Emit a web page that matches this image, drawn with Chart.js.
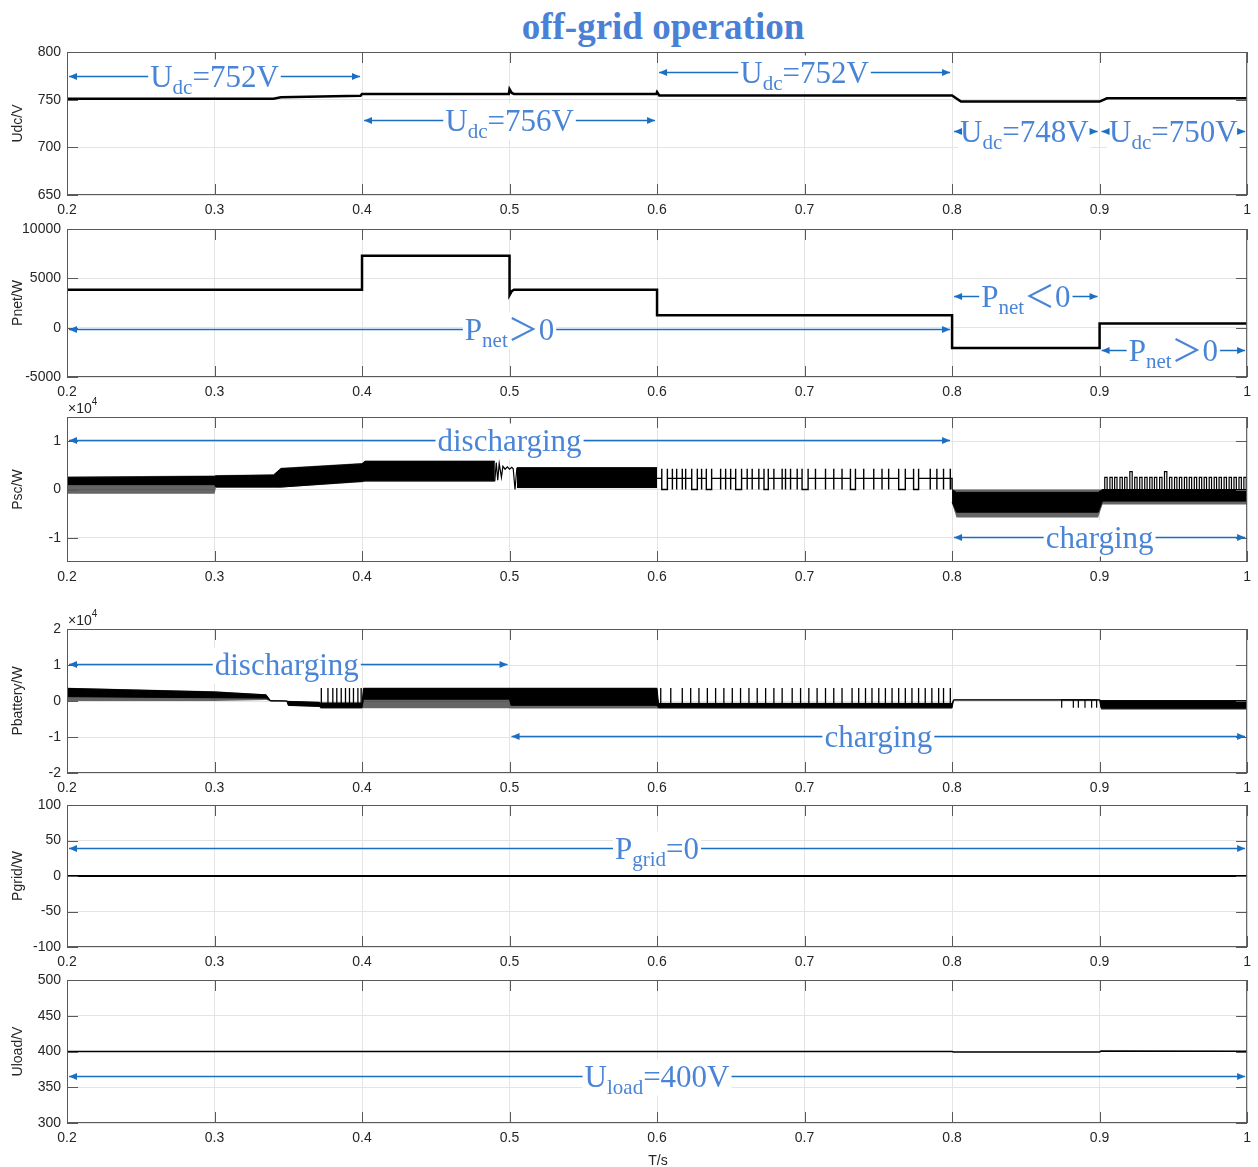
<!DOCTYPE html>
<html>
<head>
<meta charset="utf-8">
<script src="https://cdn.jsdelivr.net/npm/chart.js@4.4.0/dist/chart.umd.min.js"></script>
<style>
body{margin:0;background:#fff;width:1258px;height:1167px;position:relative;overflow:hidden}
canvas{position:absolute;left:0}
#title{position:absolute;left:0;width:1326px;top:5px;line-height:44px;text-align:center;font:bold 37px "Liberation Serif","Times New Roman",serif;color:#4a80d6}
#xlab{position:absolute;left:0;width:1316px;top:1152px;line-height:16px;text-align:center;font:14px "Liberation Sans",Arial,sans-serif;color:#262626}
</style>
</head>
<body>
<div id="title">off-grid operation</div>
<canvas id="c0" width="1258" height="193" style="top:30px"></canvas>
<canvas id="c1" width="1258" height="198" style="top:207px"></canvas>
<canvas id="c2" width="1258" height="195" style="top:395px"></canvas>
<canvas id="c3" width="1258" height="194" style="top:607px"></canvas>
<canvas id="c4" width="1258" height="192" style="top:783px"></canvas>
<canvas id="c5" width="1258" height="193" style="top:958px"></canvas>
<div id="xlab">T/s</div>
<script>
// ---- data ----
const xTicks = [0.2, 0.3, 0.4, 0.5, 0.6, 0.7, 0.8, 0.9, 1.0];

// DC bus voltage
const udcT = [0.2, 0.34, 0.345, 0.399, 0.4, 0.4995, 0.5, 0.5015, 0.503, 0.5995, 0.6, 0.6015, 0.8, 0.806, 0.9, 0.905, 1.0];
const udcV = [751, 751, 752.5, 754, 756, 756, 761, 757, 756, 756, 758, 754.5, 754.5, 748, 748, 751.5, 751.5];
const udcTicks = [650, 700, 750, 800];

// net power
const pnetT = [0.2, 0.4, 0.4, 0.5, 0.5, 0.5015, 0.503, 0.6, 0.6, 0.8, 0.8, 0.9, 0.9, 1.0];
const pnetV = [3850, 3850, 7300, 7300, 3300, 3700, 3850, 3850, 1250, 1250, -2050, -2050, 420, 420];
const pnetTicks = [-5000, 0, 5000, 10000];

// supercapacitor power: dense switching shown as envelopes
const pscT      = [0.200, 0.300, 0.301, 0.340, 0.345, 0.400, 0.402, 0.490, 0.497, 0.505, 0.600, 0.700, 0.800, 0.803, 0.899, 0.902, 1.000];
const pscCoreHi = [2500, 2700, 2800, 3000, 4300, 5300, 5800, 5800, null, 4500, 4500, null, 0, -600, -600, 0, 0];
const pscCoreLo = [1000, 1000, 500, 500, 500, 1700, 1800, 1800, null, 400, 400, null, -2600, -4700, -4700, -2400, -2400];
const pscOutHi  = [2700, 2900, 3000, 3100, 4500, 5500, 6000, 6000, null, 4600, 4600, null, 0, 0, 0, 0, 0];
const pscOutLo  = [-900, -900, 400, 400, 400, 1500, 1600, 1600, null, 300, 300, null, -2900, -5800, -5800, -3100, -3100];
const pscTransT = [0.4900, 0.4910, 0.4920, 0.4930, 0.4945, 0.4955, 0.4970, 0.4985, 0.5000, 0.5015, 0.5025, 0.5037, 0.5050];
const pscTransV = [1700, 5600, 1900, 5400, 2500, 4800, 4200, 4700, 4200, 4600, 4300, 0, 4500];
const pscStrokes = [0.6104, 0.6133, 0.6171, 0.6194, 0.6302, 0.6431, 0.6465, 0.6499, 0.6611, 0.6645, 0.6690, 0.6792,
  0.6848, 0.6871, 0.6905, 0.6950, 0.7074, 0.7142, 0.7198, 0.7254, 0.7401, 0.7469, 0.7525, 0.7570, 0.7852, 0.7897, 0.7942, 0.7988];
const pscDips = [[0.6032, 0.6070], [0.6235, 0.6273], [0.6334, 0.6370], [0.6533, 0.6573], [0.6725, 0.6754],
  [0.6983, 0.7024], [0.7311, 0.7345], [0.7638, 0.7683], [0.7739, 0.7773]];
const pscPulseT = [0.9035, 0.9070, 0.9102, 0.9138, 0.9170, 0.9205, 0.9238, 0.9272, 0.9306, 0.9340, 0.9372, 0.9407, 0.9440,
  0.9474, 0.9508, 0.9541, 0.9575, 0.9608, 0.9642, 0.9676, 0.9709, 0.9743, 0.9777, 0.9810, 0.9844, 0.9878, 0.9911, 0.9945, 0.9978];
const pscPulseH = [2500, 2500, 2500, 2500, 2500, 3700, 2500, 2500, 2500, 2500, 2500, 2500, 3700,
  2500, 2500, 2500, 2500, 2500, 2500, 2500, 2500, 2500, 2500, 2500, 2500, 2500, 2500, 2500, 2500];
const pscTicks = [-10000, 0, 10000];

// battery power
const battT      = [0.200, 0.300, 0.335, 0.338, 0.349, 0.350, 0.371, 0.372, 0.400, 0.401, 0.500, 0.501, 0.600, 0.601, 0.800, 0.801, 0.900, 0.901, 1.000];
const battCoreHi = [3500, 2500, 1700, 100, 0, -100, -400, -600, -600, 3500, 3500, 3500, 3500, -700, -700, 300, 300, 100, 100];
const battCoreLo = [1200, 900, 800, 0, 0, -1200, -1500, -1900, -1900, 500, 500, -1200, -1200, -1900, -1900, 300, 300, -2000, -2000];
const battOutHi  = [3700, 2700, 1900, 100, 0, 0, -200, -500, -500, 3700, 3700, 3700, 3700, -500, -500, 300, 300, 300, 300];
const battOutLo  = [0, 0, 300, 0, 0, -1400, -1600, -2000, -2000, -2000, -2000, -2100, -2100, -2100, -2100, 300, 300, -2400, -2400];
const battSpikesA = [0.3724, 0.3769, 0.3802, 0.3829, 0.3859, 0.3888, 0.3915, 0.3942, 0.3972, 0.3994];
const battSpikesB = [0.6025, 0.6093, 0.6171, 0.6228, 0.6284, 0.6341, 0.6397, 0.6453, 0.6510, 0.6566, 0.6623, 0.6679,
  0.6736, 0.6792, 0.6848, 0.6916, 0.6973, 0.7029, 0.7085, 0.7142, 0.7198, 0.7254, 0.7322, 0.7367, 0.7413, 0.7457,
  0.7503, 0.7548, 0.7593, 0.7638, 0.7683, 0.7728, 0.7773, 0.7818, 0.7863, 0.7909, 0.7942, 0.7988];
const battDips = [0.8743, 0.8822, 0.8856, 0.8901, 0.8946, 0.8980];
const battTicks = [-20000, -10000, 0, 10000, 20000];

// grid power and load voltage
const pgridT = [0.2, 1.0];
const pgridV = [0, 0];
const pgridTicks = [-100, -50, 0, 50, 100];
const uloadT = [0.2, 0.8, 0.801, 0.9, 0.901, 1.0];
const uloadV = [400, 400, 399.3, 399.3, 400.6, 400.4];
const uloadTicks = [300, 350, 400, 450, 500];

// annotations: [from, to, y, text, subscript, rest, text centre]
const udcNotes = [
  [0.2, 0.4, 775, 'U', 'dc', '=752V', 0.3],
  [0.4, 0.6, 729, 'U', 'dc', '=756V', 0.5],
  [0.6, 0.8, 779, 'U', 'dc', '=752V', 0.7],
  [0.8, 0.9, 717, 'U', 'dc', '=748V', 0.849],
  [0.9, 1.0, 717, 'U', 'dc', '=750V', 0.95]];
const pnetNotes = [
  [0.2, 0.8, -100, 'P', 'net', '\uFF1E0', 0.5],
  [0.8, 0.9, 3250, 'P', 'net', '\uFF1C0', 0.85],
  [0.9, 1.0, -2250, 'P', 'net', '\uFF1E0', 0.95]];
const pscNotes = [[0.2, 0.8, 10200, 'discharging', '', '', 0.5], [0.8, 1.0, -9800, 'charging', '', '', 0.9]];
const battNotes = [[0.2, 0.5, 10200, 'discharging', '', '', 0.349], [0.5, 1.0, -9700, 'charging', '', '', 0.75]];
const pgridNotes = [[0.2, 1.0, 39, 'P', 'grid', '=0', 0.6]];
const uloadNotes = [[0.2, 1.0, 366, 'U', 'load', '=400V', 0.6]];

// ---- helpers ----
const pts = (ts, vs) => ts.map((t, i) => ({x: t, y: vs[i]}));
const line = (data, w) => ({data, borderColor: '#000', borderWidth: w, pointRadius: 0, fill: false, tension: 0});
function band(ts, hi, lo, color, bw) {
  return [
    {data: pts(ts, hi), borderColor: '#000', borderWidth: bw, pointRadius: 0, fill: false, tension: 0},
    {data: pts(ts, lo), borderColor: '#000', borderWidth: bw, pointRadius: 0, fill: '-1', backgroundColor: color, tension: 0}
  ];
}
function spikes(times, base, top, low) {
  const out = [];
  times.forEach(t => out.push({x: t, y: base}, {x: t, y: top}, {x: t, y: low}, {x: t, y: base}));
  return out;
}
function pscTrain(base, top) {
  const ev = [];
  pscStrokes.forEach(t => ev.push([t, [[t, base], [t, top], [t, 0], [t, base]]]));
  pscDips.forEach(([a, b]) => ev.push([a, [[a, base], [a, top], [a, 0], [b, 0], [b, top], [b, base]]]));
  ev.sort((p, q) => p[0] - q[0]);
  const out = [{x: 0.6, y: base}];
  ev.forEach(e => e[1].forEach(p => out.push({x: p[0], y: p[1]})));
  out.push({x: 0.8, y: base}, {x: 0.8, y: 0});
  return out;
}
function pscPulses() {
  const out = [{x: 0.902, y: 0}];
  pscPulseT.forEach((t, i) => out.push({x: t, y: 0}, {x: t, y: pscPulseH[i]}, {x: t + 0.0016, y: pscPulseH[i]}, {x: t + 0.0016, y: 0}));
  return out;
}

const NOTE_BLUE = '#4a84d6', ARROW_BLUE = '#1a6fc4', AXIS = '#595959', TXT = '#262626';
const serif = '"Liberation Serif","Times New Roman","Noto Sans CJK SC",serif';
const FRINGE = 'rgba(0,0,0,0.6)';

function drawNote(ctx, xs, ys, n) {
  const [t0, t1, yv, main, sub, rest, tc] = n;
  const x0 = xs.getPixelForValue(t0) + 2, x1 = xs.getPixelForValue(t1) - 2;
  const py = Math.round(ys.getPixelForValue(yv)) + 0.5, pc = xs.getPixelForValue(tc);
  ctx.strokeStyle = ARROW_BLUE; ctx.fillStyle = ARROW_BLUE; ctx.lineWidth = 1.3;
  ctx.beginPath(); ctx.moveTo(x0, py); ctx.lineTo(x1, py); ctx.stroke();
  const fMain = '31px ' + serif, fSub = '21px ' + serif;
  ctx.font = fMain; const wm = ctx.measureText(main).width, wr = ctx.measureText(rest).width;
  ctx.font = fSub; const ws = ctx.measureText(sub).width;
  const w = wm + ws + wr, left = pc - w / 2;
  ctx.fillStyle = '#fff'; ctx.fillRect(left - 2, py - 17, w + 4, 36);
  ctx.fillStyle = NOTE_BLUE; ctx.textAlign = 'left'; ctx.textBaseline = 'alphabetic';
  ctx.font = fMain; ctx.fillText(main, left, py + 10);
  ctx.font = fSub; ctx.fillText(sub, left + wm, py + 17);
  ctx.font = fMain; ctx.fillText(rest, left + wm + ws, py + 10);
  ctx.fillStyle = ARROW_BLUE;
  [[x0, -1], [x1, 1]].forEach(([xt, d]) => {
    ctx.beginPath(); ctx.moveTo(xt, py); ctx.lineTo(xt - d * 8, py - 3.5); ctx.lineTo(xt - d * 8, py + 3.5); ctx.closePath(); ctx.fill();
  });
}

const deco = {
  id: 'deco',
  afterDraw(chart, args, o) {
    const {ctx, chartArea: a, scales: {x, y}} = chart;
    ctx.save();
    ctx.strokeStyle = AXIS; ctx.lineWidth = 1;
    ctx.strokeRect(a.left + 0.5, a.top + 0.5, a.right - a.left - 1, a.bottom - a.top - 1);
    ctx.beginPath();
    x.ticks.forEach(t => {
      const px = Math.round(x.getPixelForValue(t.value)) + 0.5;
      ctx.moveTo(px, a.bottom); ctx.lineTo(px, a.bottom - 11);
      ctx.moveTo(px, a.top); ctx.lineTo(px, a.top + 11);
    });
    y.ticks.forEach(t => {
      const py = Math.round(y.getPixelForValue(t.value)) + 0.5;
      ctx.moveTo(a.left, py); ctx.lineTo(a.left + 11, py);
      ctx.moveTo(a.right, py); ctx.lineTo(a.right - 11, py);
    });
    ctx.stroke();
    ctx.fillStyle = TXT;
    if (o.exp) {
      ctx.font = '14px "Liberation Sans",Arial,sans-serif'; ctx.textAlign = 'left'; ctx.textBaseline = 'alphabetic';
      ctx.fillText('\u00D710', a.left + 1, a.top - 4);
      const w = ctx.measureText('\u00D710').width;
      ctx.font = '10px "Liberation Sans",Arial,sans-serif';
      ctx.fillText('4', a.left + 1 + w, a.top - 12);
    }
    ctx.save();
    ctx.translate(18, (a.top + a.bottom) / 2); ctx.rotate(-Math.PI / 2);
    ctx.font = '14px "Liberation Sans",Arial,sans-serif'; ctx.textAlign = 'center'; ctx.textBaseline = 'middle';
    ctx.fillText(o.label, 0, 0);
    ctx.restore();
    (o.notes || []).forEach(n => drawNote(ctx, x, y, n));
    ctx.restore();
  }
};

const panels = [
  {id: 'c0', min: 650, max: 800, ticks: udcTicks, label: 'Udc/V', notes: udcNotes, exp: false,
   datasets: [line(pts(udcT, udcV), 2.5)]},
  {id: 'c1', min: -5000, max: 10000, ticks: pnetTicks, label: 'Pnet/W', notes: pnetNotes, exp: false,
   datasets: [line(pts(pnetT, pnetV), 2.5)]},
  {id: 'c2', min: -15000, max: 15000, ticks: pscTicks, label: 'Psc/W', notes: pscNotes, exp: true,
   datasets: [
     ...band(pscT, pscCoreHi, pscCoreLo, '#000', 1),
     ...band(pscT, pscOutHi, pscOutLo, FRINGE, 0),
     line(pts(pscTransT, pscTransV), 1.2),
     line(pscTrain(2300, 4300), 1.4),
     line(pscPulses(), 1.2)]},
  {id: 'c3', min: -20000, max: 20000, ticks: battTicks, label: 'Pbattery/W', notes: battNotes, exp: true,
   datasets: [
     ...band(battT, battCoreHi, battCoreLo, '#000', 1),
     ...band(battT, battOutHi, battOutLo, FRINGE, 0),
     line(spikes(battSpikesA, -700, 3600, -700), 1.3),
     line(spikes(battSpikesB, -800, 3600, -800), 1.3),
     line(spikes(battDips, 300, 300, -1900), 1.2)]},
  {id: 'c4', min: -100, max: 100, ticks: pgridTicks, label: 'Pgrid/W', notes: pgridNotes, exp: false,
   datasets: [line(pts(pgridT, pgridV), 2)]},
  {id: 'c5', min: 300, max: 500, ticks: uloadTicks, label: 'Uload/V', notes: uloadNotes, exp: false,
   datasets: [line(pts(uloadT, uloadV), 1.5)]}
];

const tickFont = {family: '"Liberation Sans",Arial,sans-serif', size: 14};

panels.forEach(p => {
  new Chart(document.getElementById(p.id).getContext('2d'), {
    type: 'line',
    data: {datasets: p.datasets},
    plugins: [deco],
    options: {
      responsive: false,
      animation: false,
      events: [],
      layout: {padding: {top: 22, right: 9, left: 0, bottom: 0}},
      plugins: {
        legend: {display: false},
        tooltip: {enabled: false},
        deco: {label: p.label, notes: p.notes, exp: p.exp}
      },
      scales: {
        x: {
          type: 'linear', min: 0.2, max: 1,
          afterBuildTicks: s => { s.ticks = xTicks.map(v => ({value: v})); },
          afterFit: s => { s.height = 28; },
          grid: {color: '#e4e4e4', drawTicks: false},
          border: {display: false},
          ticks: {padding: 7, color: TXT, font: tickFont, maxRotation: 0, autoSkip: false,
                  callback: v => String(+v.toFixed(1))}
        },
        y: {
          type: 'linear', min: p.min, max: p.max,
          afterBuildTicks: s => { s.ticks = p.ticks.map(v => ({value: v})); },
          afterFit: s => { s.width = 67; },
          grid: {color: '#e4e4e4', drawTicks: false},
          border: {display: false},
          ticks: {padding: 6, color: TXT, font: tickFont, autoSkip: false,
                  callback: v => p.exp ? String(v / 10000) : String(v)}
        }
      }
    }
  });
});
</script>
</body>
</html>
